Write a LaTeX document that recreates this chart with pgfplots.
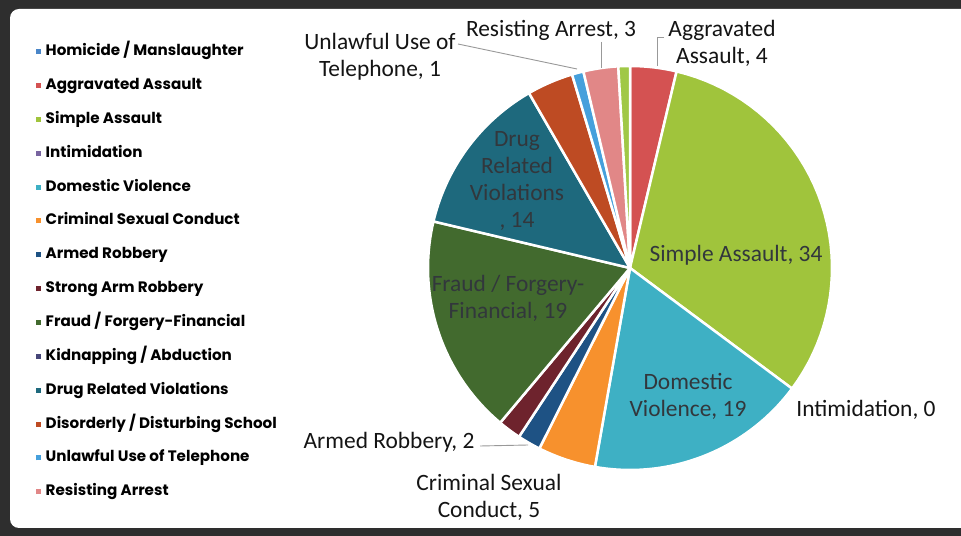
\documentclass[border=0pt]{standalone}
\usepackage{pgfplots}
\pgfplotsset{compat=1.18}
\usepackage{pgfplotstable}
\usepackage{fontspec}
\setmainfont{Carlito}
\newfontfamily\legfont{Poppins}

\definecolor{cHom}{RGB}{74,134,200}
\definecolor{cAgg}{RGB}{212,82,82}
\definecolor{cSim}{RGB}{160,196,60}
\definecolor{cInt}{RGB}{120,100,160}
\definecolor{cDom}{RGB}{62,176,196}
\definecolor{cCsc}{RGB}{247,145,45}
\definecolor{cArm}{RGB}{30,82,132}
\definecolor{cStr}{RGB}{110,35,45}
\definecolor{cFra}{RGB}{66,106,46}
\definecolor{cKid}{RGB}{70,70,120}
\definecolor{cDrg}{RGB}{30,105,125}
\definecolor{cDis}{RGB}{190,75,35}
\definecolor{cTel}{RGB}{70,160,220}
\definecolor{cRes}{RGB}{225,135,135}
\definecolor{cOth}{RGB}{160,200,70}
\definecolor{inlab}{RGB}{50,55,60}
\definecolor{outlab}{RGB}{20,20,20}

% legend key: small coloured square before the entry text
\newcommand\lk[1]{\textcolor{#1}{\rule[1.5bp]{5bp}{5bp}}\hspace{4.5bp}}

% slice values, clockwise from 12 o'clock
\pgfplotstableread[col sep=comma]{
value,col
0,cHom
4,cAgg
34,cSim
0,cInt
19,cDom
5,cCsc
2,cArm
2,cStr
19,cFra
0,cKid
14,cDrg
4,cDis
1,cTel
3,cRes
1,cOth
}\piedata

\begin{document}
\begin{tikzpicture}
% frame
\fill[black!82] (0,0) rectangle (961bp,536bp);
\fill[white, rounded corners=9bp] (10bp,8bp) rectangle (1000bp,527bp);
\begin{axis}[width=961bp, height=536bp, scale only axis,
  xmin=0, xmax=961, ymin=0, ymax=536, hide axis, clip=false,
  legend cell align=left,
  legend style={at={(axis description cs:0.0375,0.917)}, anchor=north west,
    draw=none, fill=none, inner sep=0pt, row sep=18.85bp, column sep=0pt,
    font=\legfont\bfseries\fontsize{15.2}{17}\selectfont,
    nodes={inner sep=0pt, text height=11bp, text depth=4bp}},
  ]
\pgfplotsforeachungrouped \i in {1,...,14}{\addlegendimage{empty legend}}
\pgfplotstablegetrowsof{\piedata}
\pgfmathtruncatemacro\lastrow{\pgfplotsretval-1}
\def\total{0}
\pgfplotsforeachungrouped \i in {0,...,\lastrow}{%
  \pgfplotstablegetelem{\i}{value}\of\piedata
  \pgfmathsetmacro\total{\total+\pgfplotsretval}}
\def\cum{0}
\pgfplotsforeachungrouped \i in {0,...,\lastrow}{%
  \pgfplotstablegetelem{\i}{value}\of\piedata \let\sliceval\pgfplotsretval
  \pgfplotstablegetelem{\i}{col}\of\piedata \let\slicecol\pgfplotsretval
  \pgfmathsetmacro\angA{\cum/\total*360}
  \pgfmathsetmacro\cum{\cum+\sliceval}
  \pgfmathsetmacro\angB{\cum/\total*360}
  \ifdim\sliceval pt>0pt
    \edef\tmp{\noexpand\addplot[fill=\slicecol, draw=white, line width=2.5bp,
      line join=round, forget plot, domain=\angA:\angB, samples=40]
      ({630+202*sin(x)},{268+202*cos(x)}) -- (axis cs:630,268) -- cycle;}\tmp
  \fi}
\legend{\lk{cHom}Homicide / Manslaughter, \lk{cAgg}Aggravated Assault,
  \lk{cSim}Simple Assault, \lk{cInt}Intimidation, \lk{cDom}Domestic Violence,
  \lk{cCsc}Criminal Sexual Conduct, \lk{cArm}Armed Robbery,
  \lk{cStr}Strong Arm Robbery, \lk{cFra}Fraud / Forgery-Financial,
  \lk{cKid}Kidnapping / Abduction, \lk{cDrg}Drug Related Violations,
  \lk{cDis}Disorderly / Disturbing School, \lk{cTel}Unlawful Use of Telephone,
  \lk{cRes}Resisting Arrest}

% leader lines
\draw[gray!80, line width=0.9bp] (axis cs:458,492) -- (axis cs:577,467);
\draw[gray!80, line width=0.9bp] (axis cs:601,494) -- (axis cs:601,468);
\draw[gray!80, line width=0.9bp] (axis cs:664,499) -- (axis cs:657,499) -- (axis cs:657,470);
\draw[gray!80, line width=0.9bp] (axis cs:480,90) -- (axis cs:528,91);

% labels
\begin{scope}[every node/.style={font=\fontsize{23.5}{27}\selectfont, align=center, inner sep=0pt}]
\node[text=outlab] at (axis cs:722,493) {Aggravated\\Assault, 4};
\node[text=outlab] at (axis cs:551,506) {Resisting Arrest, 3};
\node[text=outlab] at (axis cs:380,479) {Unlawful Use of\\Telephone, 1};
\node[text=outlab] at (axis cs:866,126) {Intimidation, 0};
\node[text=outlab] at (axis cs:389,94) {Armed Robbery, 2};
\node[text=outlab] at (axis cs:489,39) {Criminal Sexual\\Conduct, 5};
\node[text=inlab] at (axis cs:736,281) {Simple Assault, 34};
\node[text=inlab] at (axis cs:688,140) {Domestic\\Violence, 19};
\node[text=inlab] at (axis cs:508,238) {Fraud / Forgery-\\Financial, 19};
\node[text=inlab] at (axis cs:517,355) {Drug\\Related\\Violations\\, 14};
\end{scope}
\end{axis}
\pgfresetboundingbox
\useasboundingbox (0,0) rectangle (961bp,536bp);
\end{tikzpicture}
\end{document}
